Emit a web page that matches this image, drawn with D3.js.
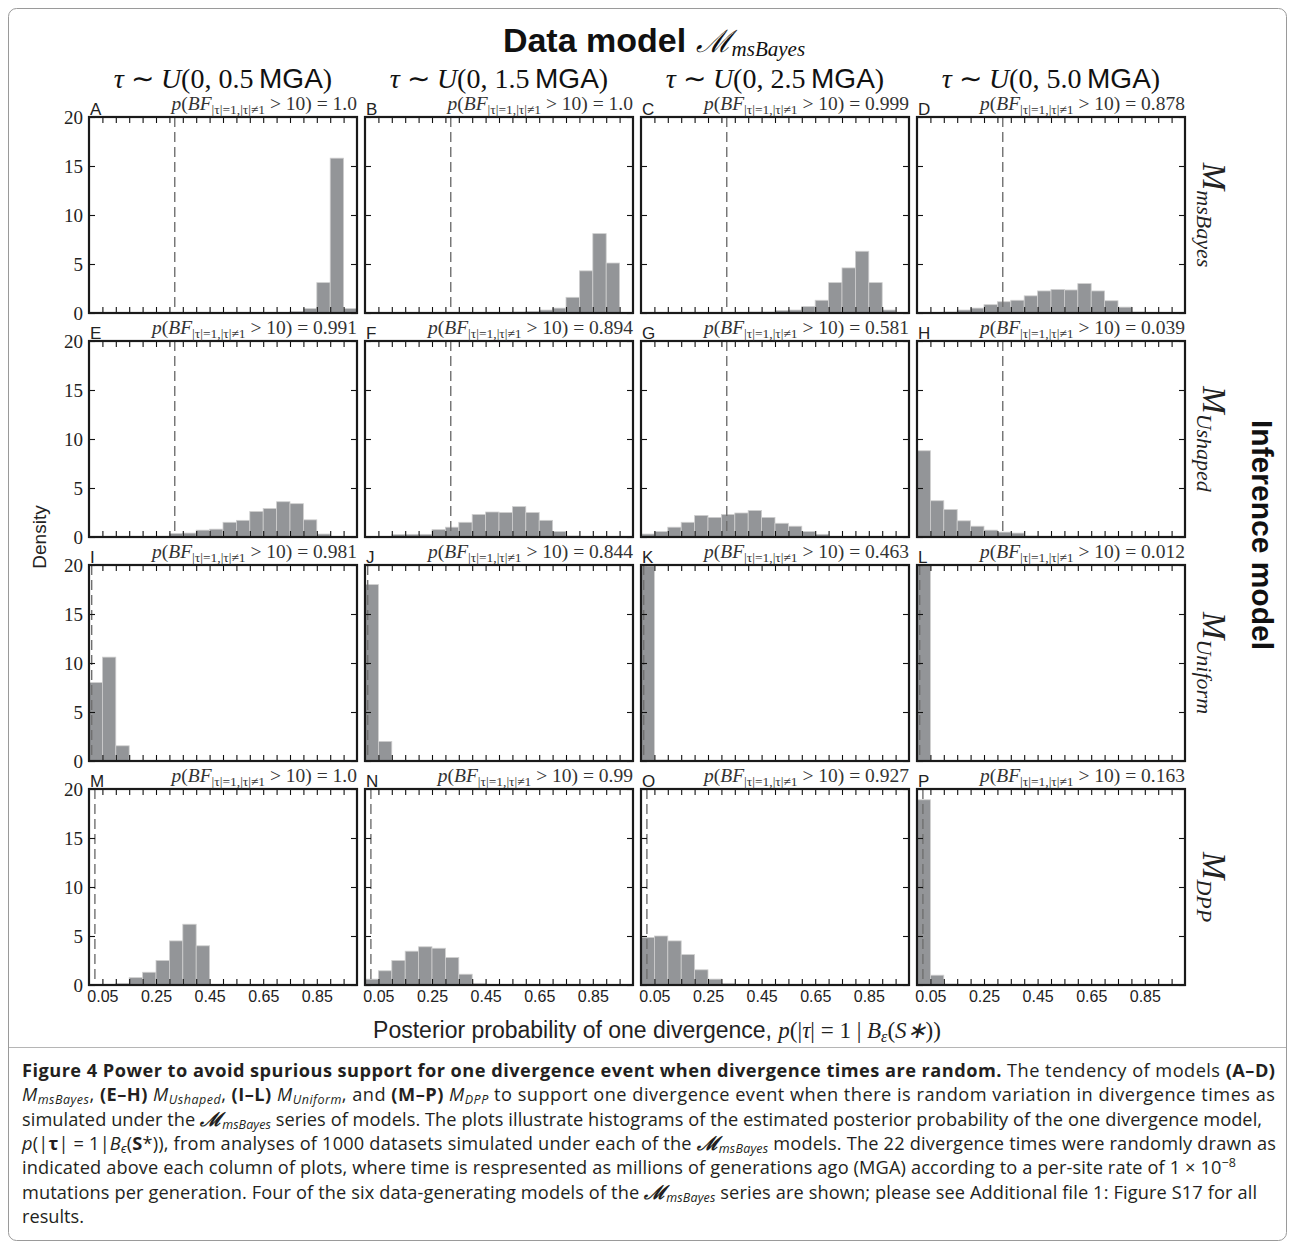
<!DOCTYPE html>
<html>
<head>
<meta charset="utf-8">
<script src="https://cdn.jsdelivr.net/npm/d3@7"></script>
<style>body{margin:0;background:#fff}</style>
</head>
<body>
<script>
// data models (columns) and inference models (rows)
var colPriors = ["0.5", "1.5", "2.5", "5.0"];
var rowModels = ["msBayes", "Ushaped", "Uniform", "DPP"];
var panelLetters = ["A","B","C","D","E","F","G","H","I","J","K","L","M","N","O","P"];
var bfProbs = ["1.0","1.0","0.999","0.878","0.991","0.894","0.581","0.039",
               "0.981","0.844","0.463","0.012","1.0","0.99","0.927","0.163"];
// prior probability of one divergence (dashed line), per inference model
var priorOneDiv = [0.32, 0.32, 0.01, 0.022];

var binWidth = 0.05;
var xTicks = [0.05,0.1,0.15,0.2,0.25,0.3,0.35,0.4,0.45,0.5,0.55,0.6,0.65,0.7,0.75,0.8,0.85,0.9,0.95];
var xTickLabels = [0.05,0.25,0.45,0.65,0.85];
var yTicks = [0,5,10,15,20];

// histogram densities, 20 bins of width 0.05 from 0 to 1
var densMsBayes = [
  [0,0,0,0,0,0,0,0,0,0,0,0,0,0,0,0.15,0.45,3.1,15.8,0.45],
  [0,0,0,0,0,0,0,0,0,0,0,0.1,0.15,0.3,0.5,1.6,4.3,8.1,5.1,0],
  [0,0,0,0,0,0,0,0,0.1,0.1,0.25,0.3,0.65,1.3,3.1,4.6,6.3,3.1,0.3,0],
  [0,0.05,0.1,0.3,0.5,0.85,1.15,1.3,1.75,2.25,2.4,2.35,3.0,2.25,1.25,0.6,0.1,0,0,0]
];
var densUshaped = [
  [0,0,0,0,0,0.07,0.35,0.4,0.7,0.8,1.5,1.7,2.6,2.9,3.6,3.4,1.75,0.3,0,0],
  [0,0.05,0.25,0.27,0.27,0.75,1.0,1.5,2.3,2.55,2.5,3.1,2.5,1.7,0.55,0.1,0,0,0,0],
  [0.3,0.55,1.0,1.5,2.2,2.0,2.3,2.45,2.7,2.0,1.4,1.1,0.55,0.27,0.05,0,0,0,0,0],
  [8.8,3.7,2.8,1.65,1.1,0.7,0.5,0.4,0.1,0,0,0,0,0,0,0,0,0,0,0]
];
var densUniform = [
  [8.0,10.6,1.55,0,0,0,0,0,0,0,0,0,0,0,0,0,0,0,0,0],
  [18.0,2.0,0,0,0,0,0,0,0,0,0,0,0,0,0,0,0,0,0,0],
  [19.9,0.1,0,0,0,0,0,0,0,0,0,0,0,0,0,0,0,0,0,0],
  [20,0,0,0,0,0,0,0,0,0,0,0,0,0,0,0,0,0,0,0]
];
var densDPP = [
  [0,0.07,0.17,0.75,1.3,2.5,4.5,6.2,4.0,0.05,0,0,0,0,0,0,0,0,0,0],
  [0.6,1.45,2.5,3.45,3.9,3.75,2.8,1.1,0.17,0,0,0,0,0,0,0,0,0,0,0],
  [4.85,5.0,4.5,3.1,1.55,0.6,0.17,0,0,0,0,0,0,0,0,0,0,0,0,0],
  [18.9,1.0,0.1,0,0,0,0,0,0,0,0,0,0,0,0,0,0,0,0,0]
];
var allDens = [densMsBayes, densUshaped, densUniform, densDPP];

var W = 1295, H = 1249;
var left0 = 89, top0 = 117, colStep = 276, rowStep = 224;
var pw = 268, ph = 196;
var serif = "'Liberation Serif', serif";
var sans = "'Liberation Sans', Arial, sans-serif";
var capFont = "'Open Sans', 'Liberation Sans', sans-serif";

var svg = d3.select("body").append("svg")
    .attr("width", W)
    .attr("height", H);

// outer frame
svg.append("rect")
    .attr("x", 8.5).attr("y", 8.5).attr("width", W - 17).attr("height", 1232)
    .attr("rx", 8).attr("fill", "none").attr("stroke", "#9a9a9a");
svg.append("line")
    .attr("x1", 9).attr("x2", W - 9).attr("y1", 1047.5).attr("y2", 1047.5)
    .attr("stroke", "#b5b5b5");

var x = d3.scaleLinear().domain([0, 1]).range([0, pw]);
var y = d3.scaleLinear().domain([0, 20]).range([ph, 0]);

allDens.forEach(function(row, r) {
  row.forEach(function(dens, c) {
    var g = svg.append("g")
        .attr("transform", "translate(" + (left0 + c * colStep) + "," + (top0 + r * rowStep) + ")");

    g.selectAll("rect.bar")
        .data(dens.map(function(v, i) { return {x0: i * binWidth, v: v}; }).filter(function(d) { return d.v > 0; }))
      .enter().append("rect")
        .attr("class", "bar")
        .attr("x", function(d) { return x(d.x0); })
        .attr("width", x(binWidth) - x(0))
        .attr("y", function(d) { return y(d.v); })
        .attr("height", function(d) { return ph - y(d.v); })
        .attr("fill", "#939598")
        .attr("stroke", "#cfcfcf")
        .attr("stroke-width", 0.8);

    // dashed prior line
    g.append("line")
        .attr("x1", x(priorOneDiv[r])).attr("x2", x(priorOneDiv[r]))
        .attr("y1", y(20)).attr("y2", y(0))
        .attr("stroke", "#707070")
        .attr("stroke-width", 1.4)
        .attr("stroke-dasharray", "10,5");

    var axB = g.append("g").attr("transform", "translate(0," + ph + ")")
        .call(d3.axisBottom(x).tickValues(xTicks).tickSize(-6).tickPadding(6)
          .tickFormat(function(d) { return (r == 3 && xTickLabels.indexOf(d) >= 0) ? d3.format(".2f")(d) : ""; }));
    var axT = g.append("g")
        .call(d3.axisTop(x).tickValues(xTicks).tickSize(-6).tickFormat(""));
    var axL = g.append("g")
        .call(d3.axisLeft(y).tickValues(yTicks).tickSize(-6).tickPadding(6)
          .tickFormat(c == 0 ? d3.format("d") : ""));
    var axR = g.append("g").attr("transform", "translate(" + pw + ",0)")
        .call(d3.axisRight(y).tickValues(yTicks).tickSize(-6).tickFormat(""));
    [axB, axT, axL, axR].forEach(function(a) {
      a.select(".domain").remove();
      a.selectAll(".tick line").attr("stroke", "#111").attr("stroke-width", 1.1);
    });
    axB.selectAll("text").attr("font-family", sans).attr("font-size", 16).attr("fill", "#222");
    axL.selectAll("text").attr("font-family", serif).attr("font-size", 19).attr("fill", "#222");

    g.append("rect")
        .attr("width", pw).attr("height", ph)
        .attr("fill", "none").attr("stroke", "#1a1a1a").attr("stroke-width", 2.2);

    // panel letter
    g.append("text")
        .attr("x", 1).attr("y", -2)
        .attr("font-family", sans).attr("font-size", 17).attr("fill", "#222")
        .text(panelLetters[r * 4 + c]);

    // BF annotation
    var t = g.append("text")
        .attr("x", pw).attr("y", -7)
        .attr("text-anchor", "end")
        .attr("font-family", serif).attr("font-size", 19.5).attr("fill", "#333");
    t.append("tspan").attr("font-style", "italic").text("p");
    t.append("tspan").text("(");
    t.append("tspan").attr("font-style", "italic").text("BF");
    t.append("tspan").attr("font-size", 13.5).attr("dy", 4).text("|τ|=1,|τ|≠1");
    t.append("tspan").attr("dy", -4).text(" > 10) = " + bfProbs[r * 4 + c]);
  });
});

// column headers
colPriors.forEach(function(p, c) {
  var t = svg.append("text")
      .attr("x", left0 + c * colStep + pw / 2).attr("y", 88)
      .attr("text-anchor", "middle")
      .attr("font-family", serif).attr("font-size", 28).attr("fill", "#111");
  t.append("tspan").attr("font-style", "italic").text("τ");
  t.append("tspan").text(" ∼ ");
  t.append("tspan").attr("font-style", "italic").text("U");
  t.append("tspan").text("(0, " + p + "\u2009");
  t.append("tspan").attr("font-family", sans).text("MGA");
  t.append("tspan").text(")");
});

// title
var title = svg.append("text")
    .attr("x", 654).attr("y", 52)
    .attr("text-anchor", "middle")
    .attr("fill", "#111");
title.append("tspan").attr("font-family", sans).attr("font-weight", "bold").attr("font-size", 34).text("Data model ");
title.append("tspan").attr("font-family", serif).attr("font-style", "italic").attr("font-size", 31).text("ℳ");
title.append("tspan").attr("font-family", serif).attr("font-style", "italic").attr("font-size", 21).attr("dy", 4).text("msBayes");

// row labels (right side)
rowModels.forEach(function(m, r) {
  var cy = top0 + r * rowStep + ph / 2;
  var t = svg.append("text")
      .attr("transform", "translate(1203," + cy + ") rotate(90)")
      .attr("text-anchor", "middle")
      .attr("font-family", serif).attr("font-style", "italic").attr("fill", "#222");
  t.append("tspan").attr("font-size", 33).text("M");
  t.append("tspan").attr("font-size", 22).attr("dy", 6).text(m);
});

svg.append("text")
    .attr("transform", "translate(1252,535) rotate(90)")
    .attr("text-anchor", "middle")
    .attr("font-family", sans).attr("font-weight", "bold").attr("font-size", 30).attr("fill", "#111")
    .text("Inference model");

svg.append("text")
    .attr("transform", "translate(46,537) rotate(-90)")
    .attr("text-anchor", "middle")
    .attr("font-family", sans).attr("font-size", 19).attr("fill", "#222")
    .text("Density");

var xt = svg.append("text")
    .attr("x", 657).attr("y", 1038)
    .attr("text-anchor", "middle")
    .attr("font-family", sans).attr("font-size", 23).attr("fill", "#222");
xt.append("tspan").text("Posterior probability of one divergence, ");
xt.append("tspan").attr("font-family", serif).attr("font-style", "italic").text("p");
xt.append("tspan").attr("font-family", serif).text("(|");
xt.append("tspan").attr("font-family", serif).attr("font-style", "italic").text("τ");
xt.append("tspan").attr("font-family", serif).text("| = 1 | ");
xt.append("tspan").attr("font-family", serif).attr("font-style", "italic").text("B");
xt.append("tspan").attr("font-family", serif).attr("font-style", "italic").attr("font-size", 16).attr("dy", 4).text("ε");
xt.append("tspan").attr("font-family", serif).attr("dy", -4).text("(");
xt.append("tspan").attr("font-family", serif).attr("font-style", "italic").text("S∗");
xt.append("tspan").attr("font-family", serif).text("))");

// caption: segments [text, style]; capEnds = right end of each line
var capLines = [
  [["Figure 4 Power to avoid spurious support for one divergence event when divergence times are random.", "b"], [" The tendency of models ", ""], ["(A–D)", "b"]],
  [["M", "i"], ["msBayes", "sub"], [", ", ""], ["(E–H)", "b"], [" ", ""], ["M", "i"], ["Ushaped", "sub"], [", ", ""], ["(I–L)", "b"], [" ", ""], ["M", "i"], ["Uniform", "sub"], [", and ", ""], ["(M–P)", "b"], [" ", ""], ["M", "i"], ["DPP", "sub"], [" to support one divergence event when there is random variation in divergence times as", ""]],
  [["simulated under the ", ""], ["ℳ", "bi"], ["msBayes", "sub"], [" series of models. The plots illustrate histograms of the estimated posterior probability of the one divergence model,", ""]],
  [["p", "i"], ["(|", ""], ["τ", "b"], ["| = 1|", ""], ["B", "i"], ["ϵ", "sub"], ["(", ""], ["S", "b"], ["*)), from analyses of 1000 datasets simulated under each of the ", ""], ["ℳ", "bi"], ["msBayes", "sub"], [" models. The 22 divergence times were randomly drawn as", ""]],
  [["indicated above each column of plots, where time is respresented as millions of generations ago (MGA) according to a per-site rate of 1 × 10", ""], ["−8", "sup"]],
  [["mutations per generation. Four of the six data-generating models of the ", ""], ["ℳ", "bi"], ["msBayes", "sub"], [" series are shown; please see Additional file 1: Figure S17 for all", ""]],
  [["results.", ""]]
];
var capEnds = [1275, 1275, 1262, 1276, 1236, 1257, null];
capLines.forEach(function(line, i) {
  var t = svg.append("text")
      .attr("x", 22).attr("y", 1077 + i * 24.3)
      .attr("font-family", capFont).attr("font-size", 18.2).attr("fill", "#231f20");
  var shift = 0;
  line.forEach(function(seg) {
    var s = t.append("tspan").text(seg[0]);
    var want = 0;
    if (seg[1] == "b") s.attr("font-weight", "bold");
    if (seg[1] == "i") s.attr("font-style", "italic");
    if (seg[1] == "bi") s.attr("font-weight", "bold").attr("font-style", "italic").attr("font-family", serif).attr("font-size", 19);
    if (seg[1] == "sub") { s.attr("font-style", "italic").attr("font-size", 12.5); want = 3; }
    if (seg[1] == "sup") { s.attr("font-size", 12.5); want = -7; }
    if (want != shift) { s.attr("dy", want - shift); shift = want; }
  });
  if (capEnds[i]) {
    var len = t.node().getComputedTextLength();
    var target = capEnds[i] - 22;
    if (Math.abs(len - target) > 2) t.attr("textLength", target).attr("lengthAdjust", "spacing");
  }
});
</script>
</body>
</html>
